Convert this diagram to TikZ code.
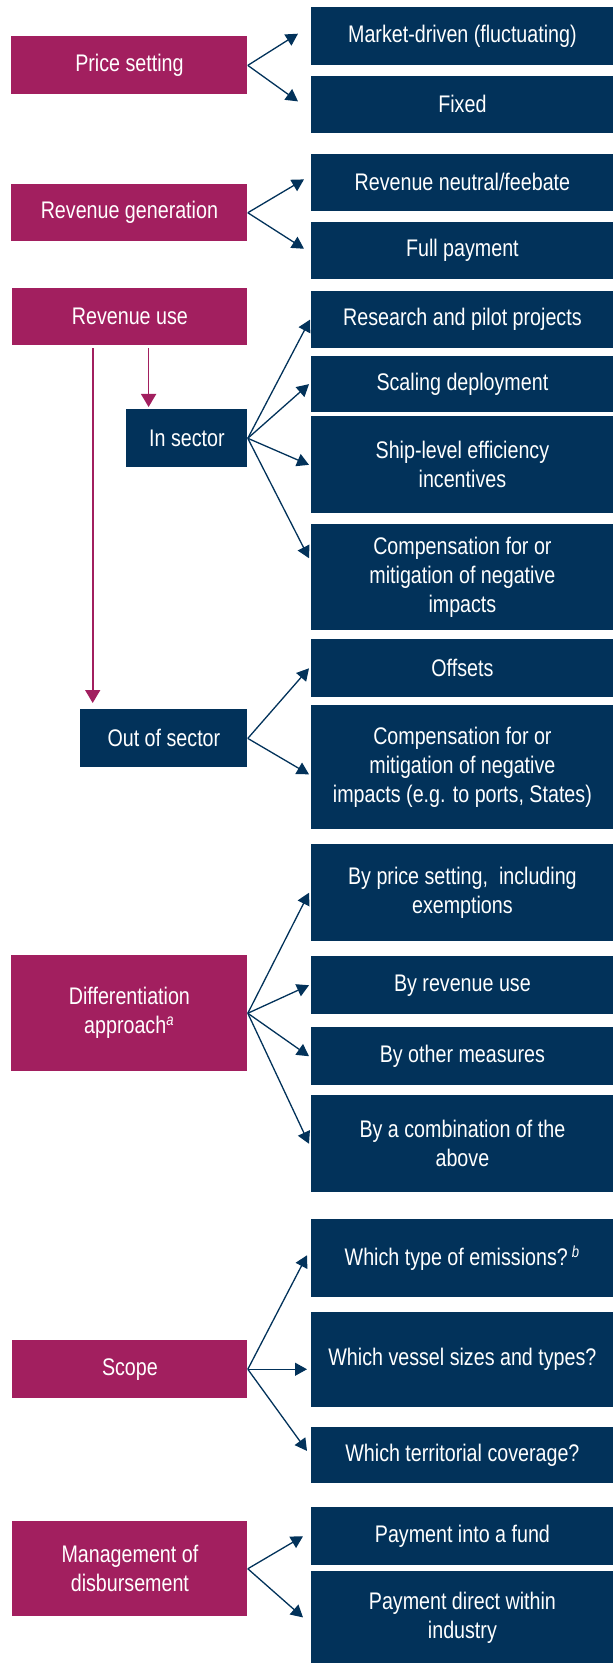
\documentclass[tikz,border=0pt]{standalone}
\usepackage{fontspec}
\setmainfont{Liberation Sans}[FakeStretch=0.82]
\usepackage{tikz}
\usetikzlibrary{arrows.meta}
\usetikzlibrary{positioning}

\definecolor{boxplum}{HTML}{A21F5F}
\definecolor{boxblue}{HTML}{02325A}

\tikzset{
  topic/.style={fill=boxplum, text=white, anchor=north west, inner sep=0pt,
    align=center, minimum width=118pt, font=\fontsize{12}{14.5}\selectfont},
  option/.style={fill=boxblue, text=white, anchor=north west, inner sep=0pt,
    align=center, minimum width=151pt, font=\fontsize{12}{14.5}\selectfont},
  link/.style={->, >={Triangle[length=6pt,width=6.5pt]}, draw=boxblue, line width=0.65pt},
  split/.style={->, >={Triangle[length=6.5pt,width=7.5pt]}, draw=boxplum, line width=0.8pt}
}

\begin{document}
\begin{tikzpicture}[x=0.5pt, y=-0.5pt]
       \useasboundingbox (0,0) rectangle (613,1663);

       % left column
       \node[topic, minimum height=29pt] (price) at (11,36) {Price setting};
       \node[topic, minimum height=28.35pt] (revgen) at (11,184) {Revenue generation};
       \node[topic, minimum width=117.5pt, minimum height=28.3pt] (revuse) at (12,288) {Revenue use};
       \node[option, minimum width=60.5pt, minimum height=28.9pt] (insector) at (126,409) {In sector};
       \node[option, minimum width=83.5pt, minimum height=29pt] (outsector) at (80,709) {Out of sector};
       \node[topic, minimum height=57.85pt] (diff) at (11,955) {Differentiation\\approach\textsuperscript{\itshape a}};
       \node[topic, minimum width=117.5pt, minimum height=28.85pt] (scope) at (12,1340) {Scope};
       \node[topic, minimum width=117.5pt, minimum height=47.35pt] (mgmt) at (12,1521) {Management of\\disbursement};

       % right column
       \node[option, minimum height=28.8pt] (market) at (311,7) {Market-driven (fluctuating)};
       \node[option, minimum height=28.7pt] (fixed) at (311,75.3) {Fixed};
       \node[option, minimum height=28.7pt] (neutral) at (311,153.3) {Revenue neutral/feebate};
       \node[option, minimum height=28.35pt] (fullpay) at (311,222) {Full payment};
       \node[option, minimum height=28.25pt] (research) at (311,291) {Research and pilot projects};
       \node[option, minimum height=28.35pt] (scaling) at (311,355.4) {Scaling deployment};
       \node[option, minimum height=48.45pt] (shiplevel) at (311,416) {Ship-level efficiency\\incentives};
       \node[option, minimum height=52.8pt] (compin) at (311,524) {Compensation for or\\mitigation of negative\\impacts};
       \node[option, minimum height=28.9pt] (offsets) at (311,639) {Offsets};
       \node[option, minimum height=62.15pt] (compout) at (311,704.3) {Compensation for or\\mitigation of negative\\impacts (e.g. to ports, States)};
       \node[option, minimum height=48.35pt] (byprice) at (311,844) {By price setting,\ \ including\\exemptions};
       \node[option, minimum height=28.85pt] (byrev) at (311,956) {By revenue use};
       \node[option, minimum height=28.85pt] (byother) at (311,1027) {By other measures};
       \node[option, minimum height=48.35pt] (bycomb) at (311,1095) {By a combination of the\\above};
       \node[option, minimum height=38.85pt] (emis) at (311,1219) {Which type of emissions?\,\textsuperscript{\itshape b}};
       \node[option, minimum height=47.35pt] (vessel) at (311,1312) {Which vessel sizes and types?};
       \node[option, minimum height=28.2pt] (territory) at (311,1426.3) {Which territorial coverage?};
       \node[option, minimum height=28.85pt] (fund) at (311,1507) {Payment into a fund};
       \node[option, minimum height=46pt] (direct) at (311,1571) {Payment direct within\\industry};

       \path (price.east) edge[link] ([xshift=-6.5pt,yshift=1.25pt]market.west);
       \path (price.east) edge[link] ([xshift=-6.5pt,yshift=1.5pt]fixed.west);

       \path (revgen.east) edge[link] ([xshift=-3.5pt,yshift=1.5pt]neutral.west);
       \path (revgen.east) edge[link] ([xshift=-3.5pt,yshift=1pt]fullpay.west);

       \draw[split] ([xshift=68.3pt,yshift=-1.5pt]revuse.south west) -- ([xshift=11.3pt,yshift=1pt]insector.north west);
       \draw[split] ([xshift=40.35pt,yshift=-1.5pt]revuse.south west) -- ([xshift=6.35pt,yshift=3pt]outsector.north west);

       \path (insector.east) edge[link] ([xshift=-0.5pt]research.west);
       \path (insector.east) edge[link] ([xshift=-1pt]scaling.west);
       \path (insector.east) edge[link] ([xshift=-1pt]shiplevel.west);
       \path (insector.east) edge[link] ([xshift=-1pt,yshift=9.5pt]compin.west);

       \path (outsector.east) edge[link] ([xshift=-1pt]offsets.west);
       \path (outsector.east) edge[link] ([xshift=-1pt,yshift=-3.75pt]compout.west);

       \path (diff.east) edge[link] ([xshift=-1pt]byprice.west);
       \path (diff.east) edge[link] ([xshift=-1pt]byrev.west);
       \path (diff.east) edge[link] ([xshift=-1pt]byother.west);
       \path (diff.east) edge[link] ([xshift=-1pt]bycomb.west);

       \path (scope.east) edge[link] ([xshift=-2pt,yshift=1.5pt]emis.west);
       \path (scope.east) edge[link] ([xshift=-2pt]scope.east -| vessel.west);
       \path (scope.east) edge[link] ([xshift=-2pt,yshift=2pt]territory.west);

       \path (mgmt.east) edge[link] ([xshift=-4pt]fund.west);
       \path (mgmt.east) edge[link] ([xshift=-4pt]direct.west);
\end{tikzpicture}
\end{document}
